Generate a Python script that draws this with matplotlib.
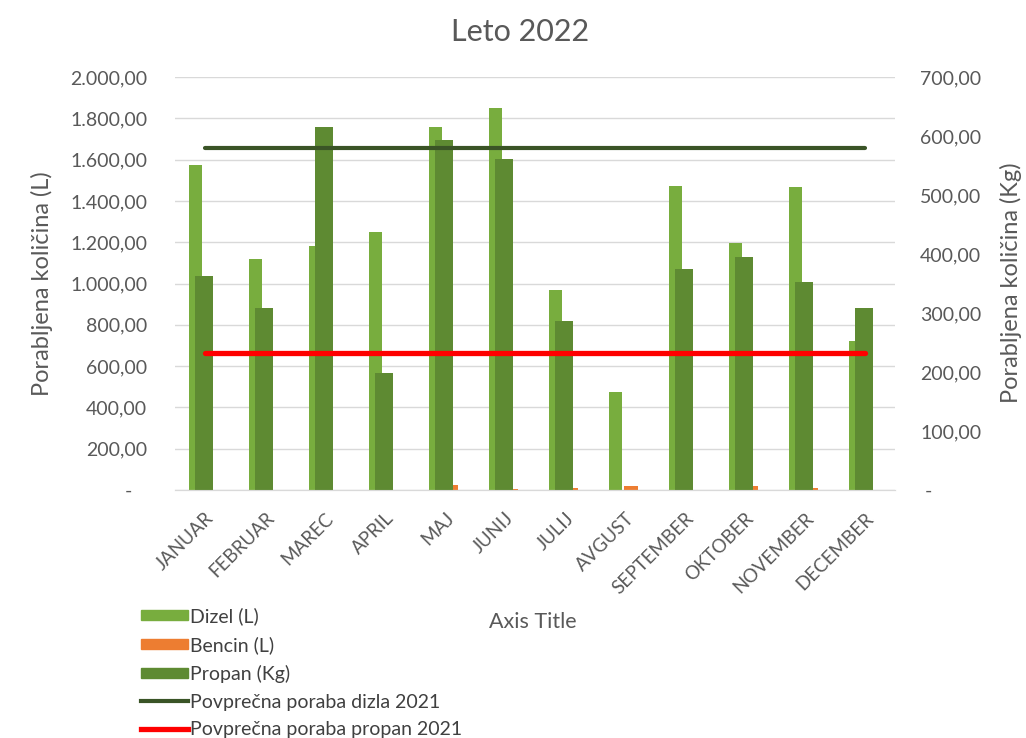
import numpy as np
import matplotlib
matplotlib.use('Agg')
import matplotlib.pyplot as plt
from matplotlib.ticker import FuncFormatter, MultipleLocator
from matplotlib.patches import Patch
from matplotlib.lines import Line2D

plt.rcParams['font.family'] = ['Lato', 'DejaVu Sans']

# podatki
meseci = ['JANUAR', 'FEBRUAR', 'MAREC', 'APRIL', 'MAJ', 'JUNIJ', 'JULIJ',
          'AVGUST', 'SEPTEMBER', 'OKTOBER', 'NOVEMBER', 'DECEMBER']
dizel = [1574, 1119, 1182, 1251, 1756, 1848, 968, 473, 1472, 1198, 1469, 721]
bencin = [0, 0, 0, 0, 22, 5, 8, 20, 0, 18, 10, 0]
propan = [363, 308, 615, 199, 593, 561, 286, 0, 374, 395, 352, 308]
povp_dizel_2021 = 1657
povp_propan_2021 = 232

c_dizel = '#78ad3e'
c_bencin = '#ed7d31'
c_propan = '#5e8a32'
c_line_d = '#3a5426'
c_line_p = '#ff0000'
siva = '#595959'


def fmt(v, pos):
    if abs(v) < 1e-9:
        return '-   '
    s = f'{v:,.2f}'
    return s.replace(',', 'X').replace('.', ',').replace('X', '.')


def fmt_r(v, pos):
    if abs(v) < 1e-9:
        return ' -'
    return fmt(v, pos)


fig = plt.figure(figsize=(10.26, 7.38), dpi=100)
ax = fig.add_axes([175/1026, 1-490/738, 720/1026, 413/738])
x = np.arange(len(meseci))

ax.bar(x-0.158, dizel, 0.22, color=c_dizel, zorder=2)
ax.bar(x+0.10, bencin, 0.22, color=c_bencin, zorder=2)
ax.set_xlim(-0.5, 11.5)
ax.set_ylim(0, 2000)
ax.yaxis.set_major_locator(MultipleLocator(200))
ax.yaxis.set_major_formatter(FuncFormatter(fmt))
ax.grid(axis='y', color='#d9d9d9', lw=1, zorder=0)
ax.set_axisbelow(True)

# propan na desni osi
ax2 = ax.twinx()
ax2.bar(x-0.017, propan, 0.3, color=c_propan, zorder=2)
ax2.plot(x, [povp_propan_2021]*len(x), color=c_line_p, lw=3.8,
         solid_capstyle='round', zorder=3)
ax2.set_ylim(0, 700)
ax2.yaxis.set_major_locator(MultipleLocator(100))
ax2.yaxis.set_major_formatter(FuncFormatter(fmt_r))

# povprecje dizla (leva skala) na vrhu
ax3 = ax.twinx()
ax3.plot(x, [povp_dizel_2021]*len(x), color=c_line_d, lw=3.0,
         solid_capstyle='round', zorder=3)
ax3.set_ylim(0, 2000)
ax3.axis('off')

for a in (ax, ax2):
    for s in ['top', 'left', 'right']:
        a.spines[s].set_visible(False)
    a.spines['bottom'].set_color('#d9d9d9')
    a.tick_params(length=0)

ax.tick_params(axis='y', labelsize=14, labelcolor=siva, pad=20)
ax2.tick_params(axis='y', labelsize=14, labelcolor=siva, pad=18)
ax.set_xticks(x)
ax.set_xticklabels(meseci, rotation=45, ha='right', rotation_mode='anchor',
                   fontsize=13.5, color=siva)
ax.tick_params(axis='x', pad=14)

ax.set_ylabel('Porabljena količina (L)', fontsize=17, color=siva, labelpad=12)
fig.text(1011/1026, 1-283/738, 'Porabljena količina (Kg)', fontsize=17,
         color=siva, rotation=90, ha='center', va='center')

fig.text(520/1026, 1-32/738, 'Leto 2022', fontsize=22, color=siva,
         ha='center', va='center')
fig.text(533/1026, 1-622/738, 'Axis Title', fontsize=15.5, color=siva,
         ha='center', va='center')

handles = [Patch(color=c_dizel), Patch(color=c_bencin), Patch(color=c_propan),
           Line2D([], [], color=c_line_d, lw=3.0),
           Line2D([], [], color=c_line_p, lw=3.8)]
labels = ['Dizel (L)', 'Bencin (L)', 'Propan (Kg)',
          'Povprečna poraba dizla 2021', 'Povprečna poraba propan 2021']
fig.legend(handles, labels, loc='upper left', bbox_to_anchor=(141/1026, 1-607/738),
           frameon=False, fontsize=14, handlelength=2.4, handleheight=0.45,
           handletextpad=0.1, labelspacing=0.56, borderaxespad=0, borderpad=0,
           labelcolor='#404040')

fig.savefig('out.png', dpi=100, facecolor='white')
